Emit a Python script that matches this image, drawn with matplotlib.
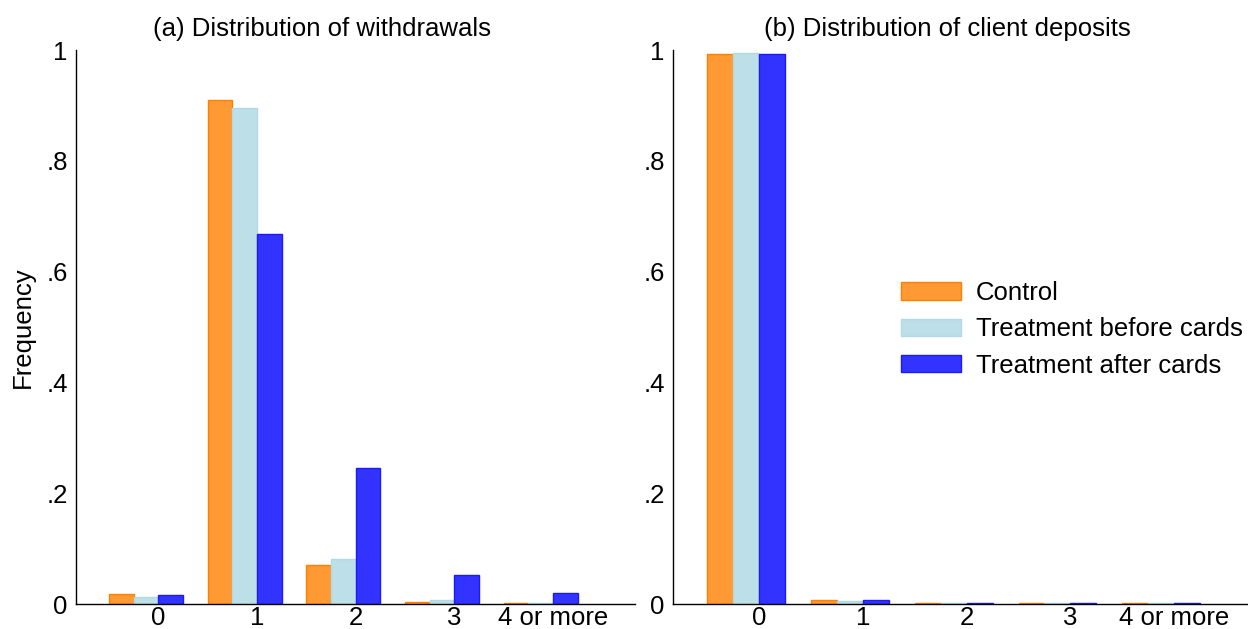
import numpy as np
import matplotlib.pyplot as plt
from matplotlib.patches import Patch

plt.rcParams.update({'font.size': 18.5, 'font.family': 'Liberation Sans'})

categories = ["0", "1", "2", "3", "4 or more"]
seriesNames = ["Control", "Treatment before cards", "Treatment after cards"]

# (a) withdrawals
withdrawControl = [0.018, 0.910, 0.071, 0.0045, 0.002]
withdrawBefore = [0.012, 0.895, 0.082, 0.008, 0.001]
withdrawAfter = [0.016, 0.668, 0.246, 0.053, 0.020]

# (b) client deposits
depositControl = [0.992, 0.007, 0.001, 0.001, 0.001]
depositBefore = [0.995, 0.005, 0.001, 0.001, 0.001]
depositAfter = [0.993, 0.008, 0.001, 0.001, 0.001]

fillColors = ["#FF9933", "#BDDFE8", "#3333FF"]
edgeColors = ["#FF8000", "#B2DAE5", "#1A1AFF"]

fig = plt.figure(figsize=(12.48, 6.29), dpi=100)
W, H = 1248, 629

def makeAxes(xLeft, xRight):
    # pixel coordinates of the plot region -> figure fraction
    return fig.add_axes([xLeft / W, (H - 604) / H, (xRight - xLeft) / W, (604 - 50) / H])

def drawPanel(ax, values, xlim):
    x = np.arange(len(categories))
    barWidth = 0.25
    for k, vals in enumerate(values):
        ax.bar(
            x + k * barWidth,
            vals,
            width=barWidth,
            align="edge",
            color=fillColors[k],
            edgecolor=edgeColors[k],
            linewidth=1.0
        )
    ax.set_xlim(*xlim)
    ax.set_ylim(0, 1)
    ax.set_xticks(x + 0.5)
    ax.set_xticklabels(categories)
    ax.set_yticks([0, 0.2, 0.4, 0.6, 0.8, 1.0])
    ax.set_yticklabels(["0", ".2", ".4", ".6", ".8", "1"])
    ax.tick_params(axis="both", length=0)
    ax.tick_params(axis="x", pad=1.5)
    ax.tick_params(axis="y", pad=6)
    ax.spines["top"].set_visible(False)
    ax.spines["right"].set_visible(False)
    for s in ["left", "bottom"]:
        ax.spines[s].set_linewidth(1.0)
        ax.spines[s].set_color("black")

ax1 = makeAxes(76, 635)
drawPanel(ax1, [withdrawControl, withdrawBefore, withdrawAfter], (-0.333, 5.33))
ax1.set_ylabel("Frequency", labelpad=8)

ax2 = makeAxes(673, 1248)
drawPanel(ax2, [depositControl, depositBefore, depositAfter], (-0.328, 5.21))

fig.text(322 / W, 1 - 29 / H, "(a) Distribution of withdrawals", ha="center", va="center")
fig.text(947 / W, 1 - 29 / H, "(b) Distribution of client deposits", ha="center", va="center")

handles = [Patch(facecolor=fillColors[k], edgecolor=edgeColors[k], linewidth=1.0) for k in range(3)]
fig.legend(
    handles,
    seriesNames,
    loc="upper left",
    bbox_to_anchor=(901 / W, 1 - 281 / H),
    frameon=False,
    borderpad=0,
    borderaxespad=0,
    handlelength=2.35,
    handleheight=0.65,
    handletextpad=0.55,
    labelspacing=0.48
)

fig.savefig("out.png", dpi=100)
